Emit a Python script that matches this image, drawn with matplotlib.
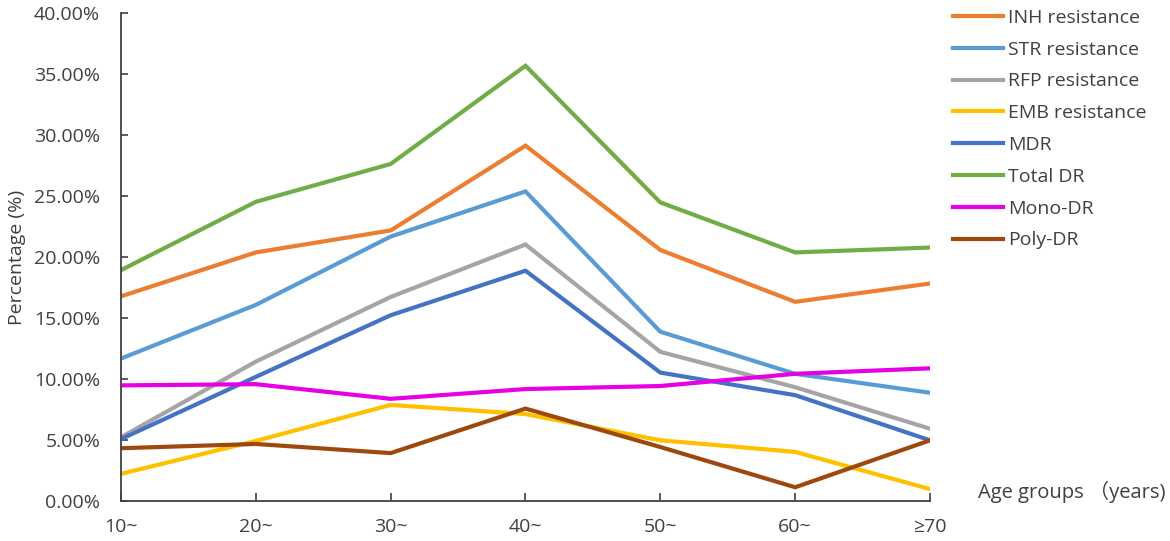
import matplotlib
matplotlib.use("Agg")
import matplotlib.pyplot as plt
from matplotlib.ticker import FuncFormatter, MultipleLocator

categories = ["10~", "20~", "30~", "40~", "50~", "60~", "≥70"]
inh = [16.8, 20.4, 22.2, 29.15, 20.6, 16.35, 17.85]
stre = [11.7, 16.1, 21.7, 25.4, 13.9, 10.45, 8.9]
rfp = [5.25, 11.45, 16.75, 21.05, 12.25, 9.35, 5.95]
emb = [2.25, 4.95, 7.9, 7.15, 5.0, 4.05, 1.0]
mdr = [5.1, 10.2, 15.25, 18.9, 10.55, 8.7, 5.0]
total = [18.95, 24.55, 27.65, 35.7, 24.5, 20.4, 20.8]
mono = [9.5, 9.6, 8.4, 9.2, 9.45, 10.45, 10.9]
poly = [4.35, 4.7, 3.95, 7.6, 4.45, 1.15, 5.0]

series_names = ["INH resistance", "STR resistance", "RFP resistance", "EMB resistance",
                "MDR", "Total DR", "Mono-DR", "Poly-DR"]
series_values = [inh, stre, rfp, emb, mdr, total, mono, poly]
series_colors = ["#ED7D31", "#5B9BD5", "#A5A5A5", "#FFC000",
                 "#4472C4", "#70AD47", "#E600E6", "#9E480E"]

plt.rcParams['font.family'] = ['Open Sans', 'Noto Sans CJK SC', 'DejaVu Sans']
txt = "#404040"
fs = 14

fig = plt.figure(figsize=(11.7, 5.41), dpi=100)
ax = fig.add_axes([121/1170, (541-501.3)/541, (930-121)/1170, (501.3-13.3)/541])

x = list(range(len(categories)))
handles = []
for name, vals, col in zip(series_names, series_values, series_colors):
    h, = ax.plot(x, vals, color=col, lw=3, label=name, solid_joinstyle='miter')
    handles.append(h)

ax.set_xlim(0, len(categories) - 1)
ax.set_ylim(0, 40)
ax.yaxis.set_major_locator(MultipleLocator(5))
ax.yaxis.set_major_formatter(FuncFormatter(lambda v, p: f"{v:.2f}%"))
ax.set_xticks(x)
ax.set_xticklabels(categories)

for s in ["top", "right"]:
    ax.spines[s].set_visible(False)
for s in ["left", "bottom"]:
    ax.spines[s].set_color("#404040")
    ax.spines[s].set_linewidth(1.3)

ax.tick_params(axis='x', direction='in', length=6, width=1.2, color="#404040",
               labelsize=fs, labelcolor=txt, pad=12)
ax.tick_params(axis='y', direction='in', length=5, width=1.2, color="#404040",
               labelsize=fs, labelcolor=txt, pad=15)

ax.set_ylabel("Percentage (%)", fontsize=fs, color=txt, labelpad=6)

fig.text(1166/1170, (541-492)/541, "Age groups （years)", fontsize=fs + 0.5, color=txt,
         ha='right', va='center')

leg = fig.legend(handles=handles, loc='upper left', bbox_to_anchor=(945/1170, 1 - 1/541),
                 frameon=False, fontsize=fs, handlelength=2.6, handletextpad=0.25,
                 labelspacing=0.71, borderaxespad=0)
for t in leg.get_texts():
    t.set_color(txt)

fig.savefig("out.png", dpi=100)
